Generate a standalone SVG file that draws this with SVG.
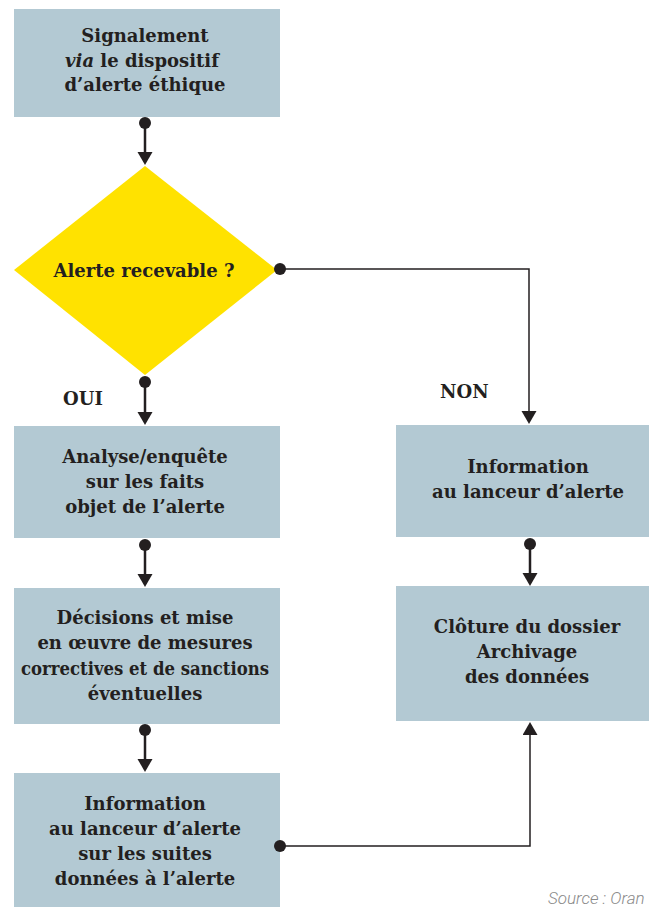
<svg xmlns="http://www.w3.org/2000/svg" width="649" height="907" viewBox="0 0 649 907">
<defs>
<style>
.box{fill:#b3c9d3}
.dia{fill:#ffe200}
.t{font-family:"DejaVu Serif","Liberation Serif",serif;font-weight:bold;font-size:18px;fill:#231f20;text-anchor:middle}
.lbl{font-family:"DejaVu Serif","Liberation Serif",serif;font-weight:bold;font-size:18px;fill:#231f20}
.c{fill:none;stroke:#231f20}
.s{stroke-width:2.5}
.l{stroke-width:1.5}
.src{font-family:Roboto,"Liberation Sans",sans-serif;font-style:italic;font-weight:300;font-size:17px;fill:#8a8a8a}
</style>
<marker id="arr" markerUnits="userSpaceOnUse" markerWidth="14" markerHeight="16" refX="0" refY="7.5" orient="auto" viewBox="0 0 14 16">
<path d="M0,0 L13,7.5 L0,15 z" fill="#231f20"/>
</marker>
<marker id="dot" markerUnits="userSpaceOnUse" markerWidth="13" markerHeight="13" refX="6.5" refY="6.5" viewBox="0 0 13 13">
<circle cx="6.5" cy="6.5" r="6" fill="#231f20"/>
</marker>
</defs>
<rect width="649" height="907" fill="#ffffff"/>

<g id="n1">
<rect class="box" x="14" y="9" width="266" height="108"/>
<text class="t" x="145" y="42">Signalement</text>
<text class="t" x="142" y="67"><tspan font-style="italic">via</tspan> le dispositif</text>
<text class="t" x="145" y="91">d’alerte éthique</text>
</g>

<g id="n2">
<polygon class="dia" points="145,166 277,270 145,375 14,270"/>
<text class="t" x="144" y="277">Alerte recevable ?</text>
</g>

<g id="n3">
<rect class="box" x="14" y="426" width="266" height="112"/>
<text class="t" x="145" y="463">Analyse/enquête</text>
<text class="t" x="145" y="488">sur les faits</text>
<text class="t" x="145" y="513">objet de l’alerte</text>
</g>

<g id="n4">
<rect class="box" x="14" y="588" width="266" height="136"/>
<text class="t" x="145" y="624">Décisions et mise</text>
<text class="t" x="145" y="649">en œuvre de mesures</text>
<text class="t" x="145" y="675" textLength="248" lengthAdjust="spacingAndGlyphs">correctives et de sanctions</text>
<text class="t" x="145" y="700">éventuelles</text>
</g>

<g id="n5">
<rect class="box" x="14" y="773" width="266" height="134"/>
<text class="t" x="145" y="810">Information</text>
<text class="t" x="145" y="835">au lanceur d’alerte</text>
<text class="t" x="145" y="860">sur les suites</text>
<text class="t" x="145" y="885">données à l’alerte</text>
</g>

<g id="n6">
<rect class="box" x="396" y="425" width="253" height="112"/>
<text class="t" x="528" y="473">Information</text>
<text class="t" x="528" y="498">au lanceur d’alerte</text>
</g>

<g id="n7">
<rect class="box" x="396" y="586" width="253" height="135"/>
<text class="t" x="527" y="633">Clôture du dossier</text>
<text class="t" x="527" y="658">Archivage</text>
<text class="t" x="527" y="683">des données</text>
</g>

<g id="connectors">
<path class="c s" d="M145,123 V152" marker-start="url(#dot)" marker-end="url(#arr)"/>
<path class="c s" d="M145,382 V412" marker-start="url(#dot)" marker-end="url(#arr)"/>
<path class="c s" d="M145,545 V574" marker-start="url(#dot)" marker-end="url(#arr)"/>
<path class="c s" d="M145,730 V759" marker-start="url(#dot)" marker-end="url(#arr)"/>
<path class="c l" d="M280,269 H529 V411" marker-start="url(#dot)" marker-end="url(#arr)"/>
<path class="c s" d="M530,544 V573" marker-start="url(#dot)" marker-end="url(#arr)"/>
<path class="c l" d="M280,846 H530 V735" marker-start="url(#dot)" marker-end="url(#arr)"/>
<text class="lbl" x="63" y="405">OUI</text>
<text class="lbl" x="440" y="398">NON</text>
</g>

<text class="src" x="548" y="904">Source : Oran</text>
</svg>
